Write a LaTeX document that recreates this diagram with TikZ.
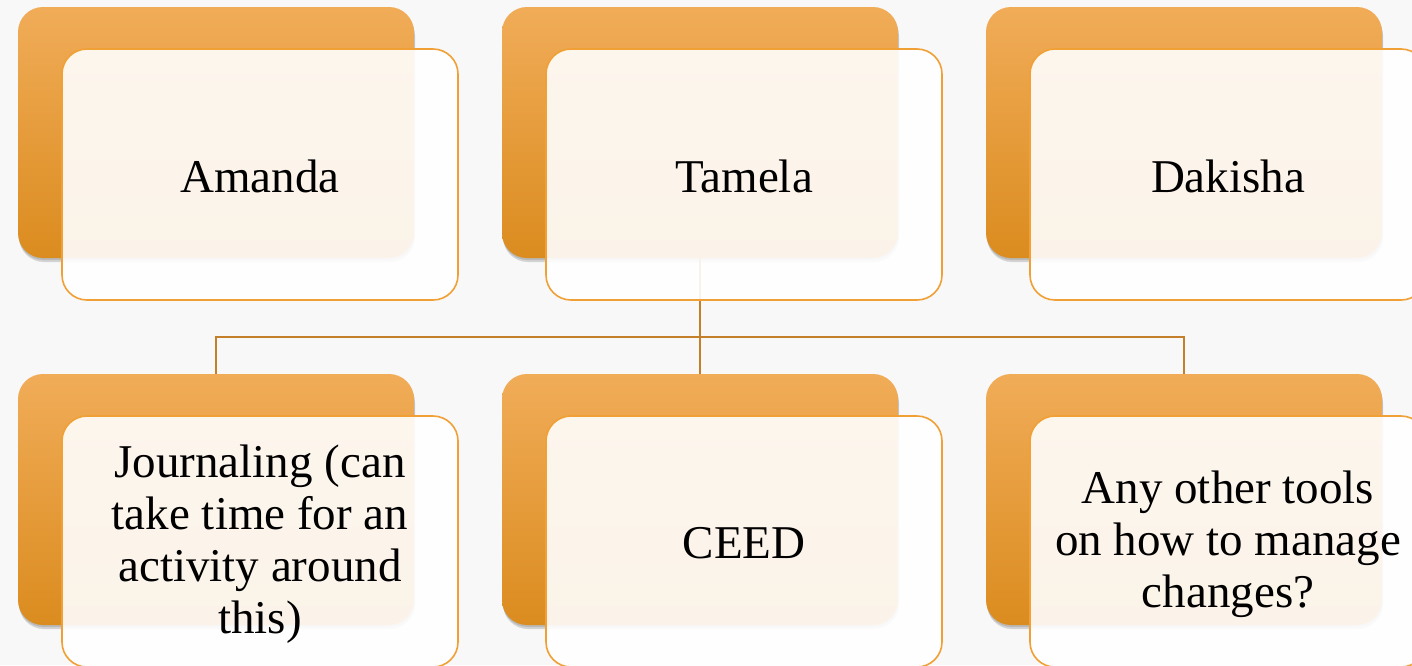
\documentclass[tikz,border=0pt]{standalone}
\usepackage{fontspec}
\setmainfont{Liberation Serif}
\usetikzlibrary{shadows}
\definecolor{bgc}{HTML}{F8F8F8}
\definecolor{otop}{HTML}{F1AC58}
\definecolor{obot}{HTML}{DB8C1F}
\definecolor{fborder}{HTML}{F0A035}
\definecolor{conncol}{HTML}{C47F2A}
\tikzset{
  backbox/.style={minimum width=396pt, minimum height=251pt, rounded corners=25pt,
    top color=otop, bottom color=obot, draw=none,
    drop shadow={shadow xshift=1pt, shadow yshift=-4pt, opacity=0.15, fill=black},
    drop shadow={shadow xshift=0.5pt, shadow yshift=-2pt, opacity=0.12, fill=black}},
  frontbox/.style={minimum width=396pt, minimum height=251pt, rounded corners=25pt,
    draw=fborder, line width=1.6pt, fill=white, fill opacity=0.9},
  txt/.style={align=center, font=\fontsize{47}{52}\selectfont, inner sep=0pt},
  conn/.style={draw=conncol, line width=1.8pt}
}
\begin{document}
\begin{tikzpicture}[x=1pt,y=1pt]
\clip (0,0) rectangle (1412,-665);
\fill[bgc] (0,0) rectangle (1412,-665);
% back boxes
\node[backbox] (b1) at (216,-132.5) {};
\node[backbox] (b2) at (700,-132.5) {};
\node[backbox] (b3) at (1184,-132.5) {};
\node[backbox] (b4) at (216,-499.5) {};
\node[backbox] (b5) at (700,-499.5) {};
\node[backbox] (b6) at (1184,-499.5) {};
% connectors
\coordinate (hub) at (700,-337);
\draw[conn] (b2.south) -- (hub);
\draw[conn] (b4.north) |- (hub) -| (b6.north);
\draw[conn] (hub) -- (b5.north);
% front boxes
\node[frontbox] (f1) at (260,-174.5) {};
\node[frontbox] (f2) at (744,-174.5) {};
\node[frontbox] (f3) at (1228,-174.5) {};
\node[frontbox] (f4) at (260,-541.5) {};
\node[frontbox] (f5) at (744,-541.5) {};
\node[frontbox] (f6) at (1228,-541.5) {};
% texts
\node[txt] (t1) at ([yshift=-2pt]f1.center) {Amanda};
\node[txt] (t2) at ([yshift=-2pt]f2.center) {Tamela};
\node[txt] (t3) at ([yshift=-2pt]f3.center) {Dakisha};
\node[txt] (t4) at ([yshift=-3pt]f4.center) {Journaling (can\\take time for an\\activity around\\this)};
\node[txt] (t5) at ([yshift=-2pt]f5.center) {CEED};
\node[txt] (t6) at ([yshift=-3pt]f6.center) {Any other tools\\on how to manage\\changes?};
\end{tikzpicture}
\end{document}
